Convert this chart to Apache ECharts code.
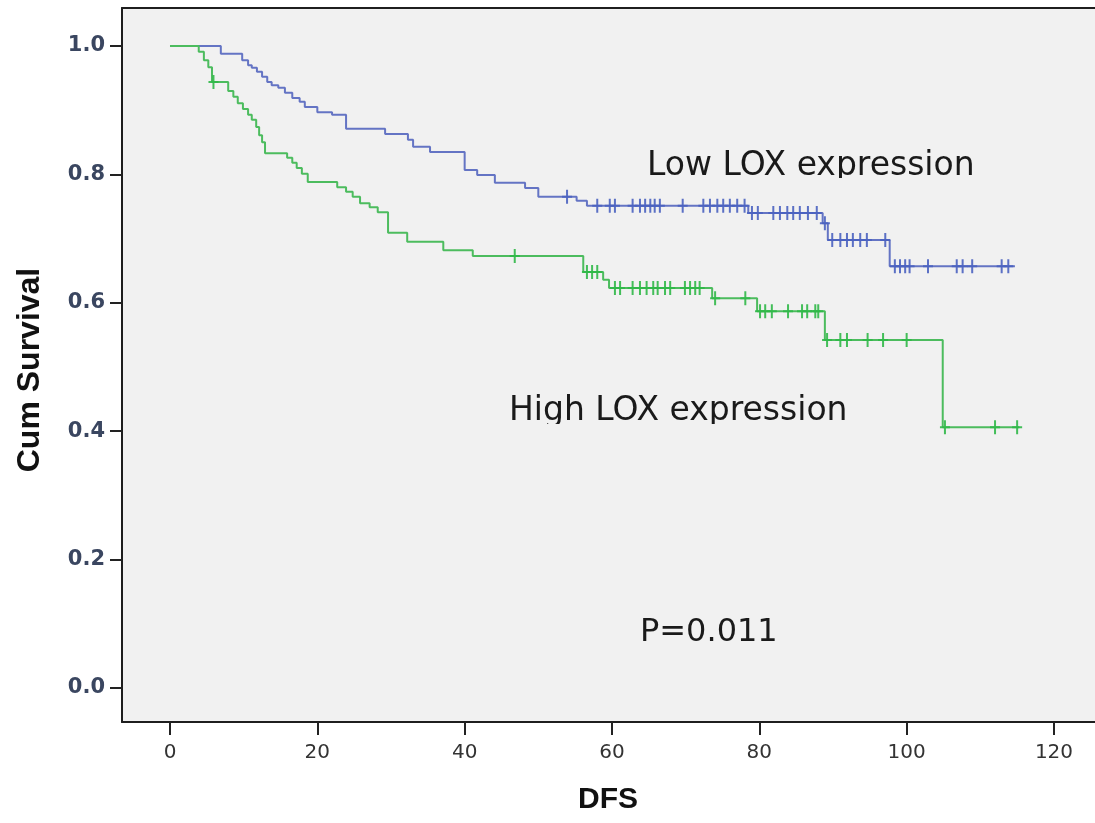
<!DOCTYPE html>
<html><head><meta charset="utf-8">
<script src="https://cdn.jsdelivr.net/npm/echarts@6/dist/echarts.min.js"></script>
<style>html,body{margin:0;padding:0;background:#fff;overflow:hidden}#c{width:1095px;height:823px}</style>
</head><body><div id="c"></div>
<script>
// ---- data ----
const xTicks = [0, 20, 40, 60, 80, 100, 120];
const yTicks = [0.0, 0.2, 0.4, 0.6, 0.8, 1.0];

const lowTimes = [0,6.9,9.8,10.6,11.1,11.8,12.5,13.2,13.8,14.7,15.6,16.6,17.6,18.3,20.0,22.0,23.9,29.2,32.3,33.0,35.3,40.0,41.7,44.1,48.2,50.0,55.2,56.6,78.5,88.6,89.3,97.7];
const lowSurv  = [1.0,0.988,0.978,0.970,0.966,0.960,0.952,0.944,0.939,0.935,0.927,0.919,0.913,0.905,0.897,0.893,0.871,0.863,0.854,0.843,0.835,0.807,0.799,0.787,0.779,0.765,0.759,0.751,0.740,0.724,0.698,0.657];
const lowEnd = 114.7;
const lowCensor = [53.9,58.0,59.7,60.4,62.8,63.8,64.5,65.2,65.8,66.5,69.6,72.4,73.3,74.3,75.1,76.0,77.0,78.0,79.0,79.8,81.9,82.8,83.8,84.6,85.5,86.6,87.8,88.9,89.9,91.0,91.9,92.7,93.7,94.6,97.1,98.4,99.1,99.8,100.4,102.9,106.8,107.6,108.9,112.9,113.8];

const highTimes = [0,3.9,4.6,5.2,5.7,7.9,8.6,9.2,9.9,10.6,11.1,11.7,12.1,12.5,12.9,15.9,16.6,17.2,17.9,18.7,22.7,23.9,24.8,25.8,27.1,28.2,29.6,32.2,37.1,41.1,56.1,58.8,59.6,73.6,79.7,88.9,104.9];
const highSurv  = [1.0,0.991,0.978,0.967,0.944,0.930,0.921,0.911,0.902,0.893,0.885,0.874,0.861,0.850,0.833,0.826,0.818,0.810,0.801,0.788,0.780,0.773,0.765,0.755,0.749,0.741,0.709,0.695,0.682,0.673,0.648,0.636,0.623,0.607,0.587,0.542,0.406];
const highEnd = 115.3;
const highCensor = [5.9,46.8,56.6,57.3,58.0,60.4,61.1,62.8,63.8,64.7,65.6,66.2,67.2,67.9,69.9,70.6,71.3,71.9,74.0,78.1,80.1,80.8,81.7,83.9,85.8,86.5,87.6,88.0,89.2,91.0,91.9,94.7,96.8,100.0,105.2,112.0,115.0];

const labels = { low: 'Low LOX expression', high: 'High LOX expression', p: 'P=0.011', x: 'DFS', y: 'Cum Survival' };

// ---- build ----
function stepData(times, surv, end) {
  const d = times.map((t, i) => [t, surv[i]]);
  d.push([end, surv[surv.length - 1]]);
  return d;
}
function survAt(times, surv, t) {
  let v = surv[0];
  for (let i = 0; i < times.length; i++) if (times[i] <= t) v = surv[i];
  return v;
}
function censorData(times, surv, cs) { return cs.map(t => [t, survAt(times, surv, t)]); }

const plus = 'path://M4,0L6,0L6,6L10,6L10,8L6,8L6,14L4,14L4,8L0,8L0,6L4,6Z';
const BLUE = '#6474c4', BLUE_C = '#4a62c0', GREEN = '#4cbc5e', GREEN_C = '#30b848';
const BG = '#f1f1f1';
const FRAME = { color: '#1e1e1e', width: 2 };

// frame extents in data units (the frame runs to the right edge of the picture)
const X_MIN = -6.516, X_MAX = 125.57, Y_MIN = -0.053, Y_MAX = 1.0592;

const chart = echarts.init(document.getElementById('c'), null, { renderer: 'canvas' });
chart.setOption({
  backgroundColor: '#ffffff',
  animation: false,
  grid: { left: 122, top: 8, right: 0, bottom: 101, show: true, backgroundColor: BG, borderWidth: 0 },
  xAxis: [{
    type: 'value', min: X_MIN, max: X_MAX, position: 'bottom',
    axisLine: { show: true, onZero: false, lineStyle: FRAME },
    splitLine: { show: false },
    axisTick: { show: true, length: 13, customValues: xTicks, lineStyle: { color: '#222', width: 2 } },
    axisLabel: { margin: 21, color: '#333', fontSize: 20, fontFamily: 'DejaVu Sans', customValues: xTicks }
  }, {
    type: 'value', min: X_MIN, max: X_MAX, position: 'top',
    axisLine: { show: true, onZero: false, lineStyle: FRAME },
    splitLine: { show: false }, axisTick: { show: false }, axisLabel: { show: false }
  }],
  yAxis: {
    type: 'value', min: Y_MIN, max: Y_MAX,
    axisLine: { show: true, onZero: false, lineStyle: FRAME },
    splitLine: { show: false },
    axisTick: { show: true, length: 12, customValues: yTicks, lineStyle: { color: '#222', width: 2 } },
    axisLabel: { margin: 17, color: '#3a4660', fontSize: 21, fontWeight: 'bold', fontFamily: 'DejaVu Sans',
      customValues: yTicks, formatter: v => v.toFixed(1) }
  },
  series: [
    { type: 'line', step: 'end', showSymbol: false, z: 3,
      data: stepData(lowTimes, lowSurv, lowEnd), lineStyle: { color: BLUE, width: 2 } },
    { type: 'line', step: 'end', showSymbol: false, z: 3,
      data: stepData(highTimes, highSurv, highEnd), lineStyle: { color: GREEN, width: 2 } },
    { type: 'scatter', symbol: plus, symbolSize: [10, 14], z: 4,
      data: censorData(lowTimes, lowSurv, lowCensor), itemStyle: { color: BLUE_C, opacity: 0.9 } },
    { type: 'scatter', symbol: plus, symbolSize: [10, 14], z: 4,
      data: censorData(highTimes, highSurv, highCensor), itemStyle: { color: GREEN_C, opacity: 0.9 } }
  ],
  graphic: [
    { type: 'text', x: 30, y: 370, rotation: Math.PI / 2, z: 10,
      style: { text: labels.y, fill: '#111', font: 'bold 32px "Liberation Sans Narrow", "Liberation Sans", sans-serif', textAlign: 'center', textVerticalAlign: 'middle' } },
    { type: 'text', x: 608, y: 800, z: 10,
      style: { text: labels.x, fill: '#111', font: 'bold 30px "Liberation Sans", sans-serif', textAlign: 'center', textVerticalAlign: 'middle' } },
    { type: 'text', x: 647, y: 150, z: 10,
      style: { text: labels.low, fill: '#1a1a1a', font: '33px "DejaVu Sans", sans-serif', textAlign: 'left', textVerticalAlign: 'top' } },
    { type: 'rect', shape: { x: 640, y: 178, width: 345, height: 12 }, z: 11, style: { fill: BG } },
    { type: 'text', x: 509, y: 395, z: 10,
      style: { text: labels.high, fill: '#1a1a1a', font: '33px "DejaVu Sans", sans-serif', textAlign: 'left', textVerticalAlign: 'top' } },
    { type: 'rect', shape: { x: 500, y: 424, width: 355, height: 12 }, z: 11, style: { fill: BG } },
    { type: 'text', x: 640, y: 617, z: 10,
      style: { text: labels.p, fill: '#1a1a1a', font: '32px "DejaVu Sans", sans-serif', textAlign: 'left', textVerticalAlign: 'top' } }
  ]
});
</script></body></html>
